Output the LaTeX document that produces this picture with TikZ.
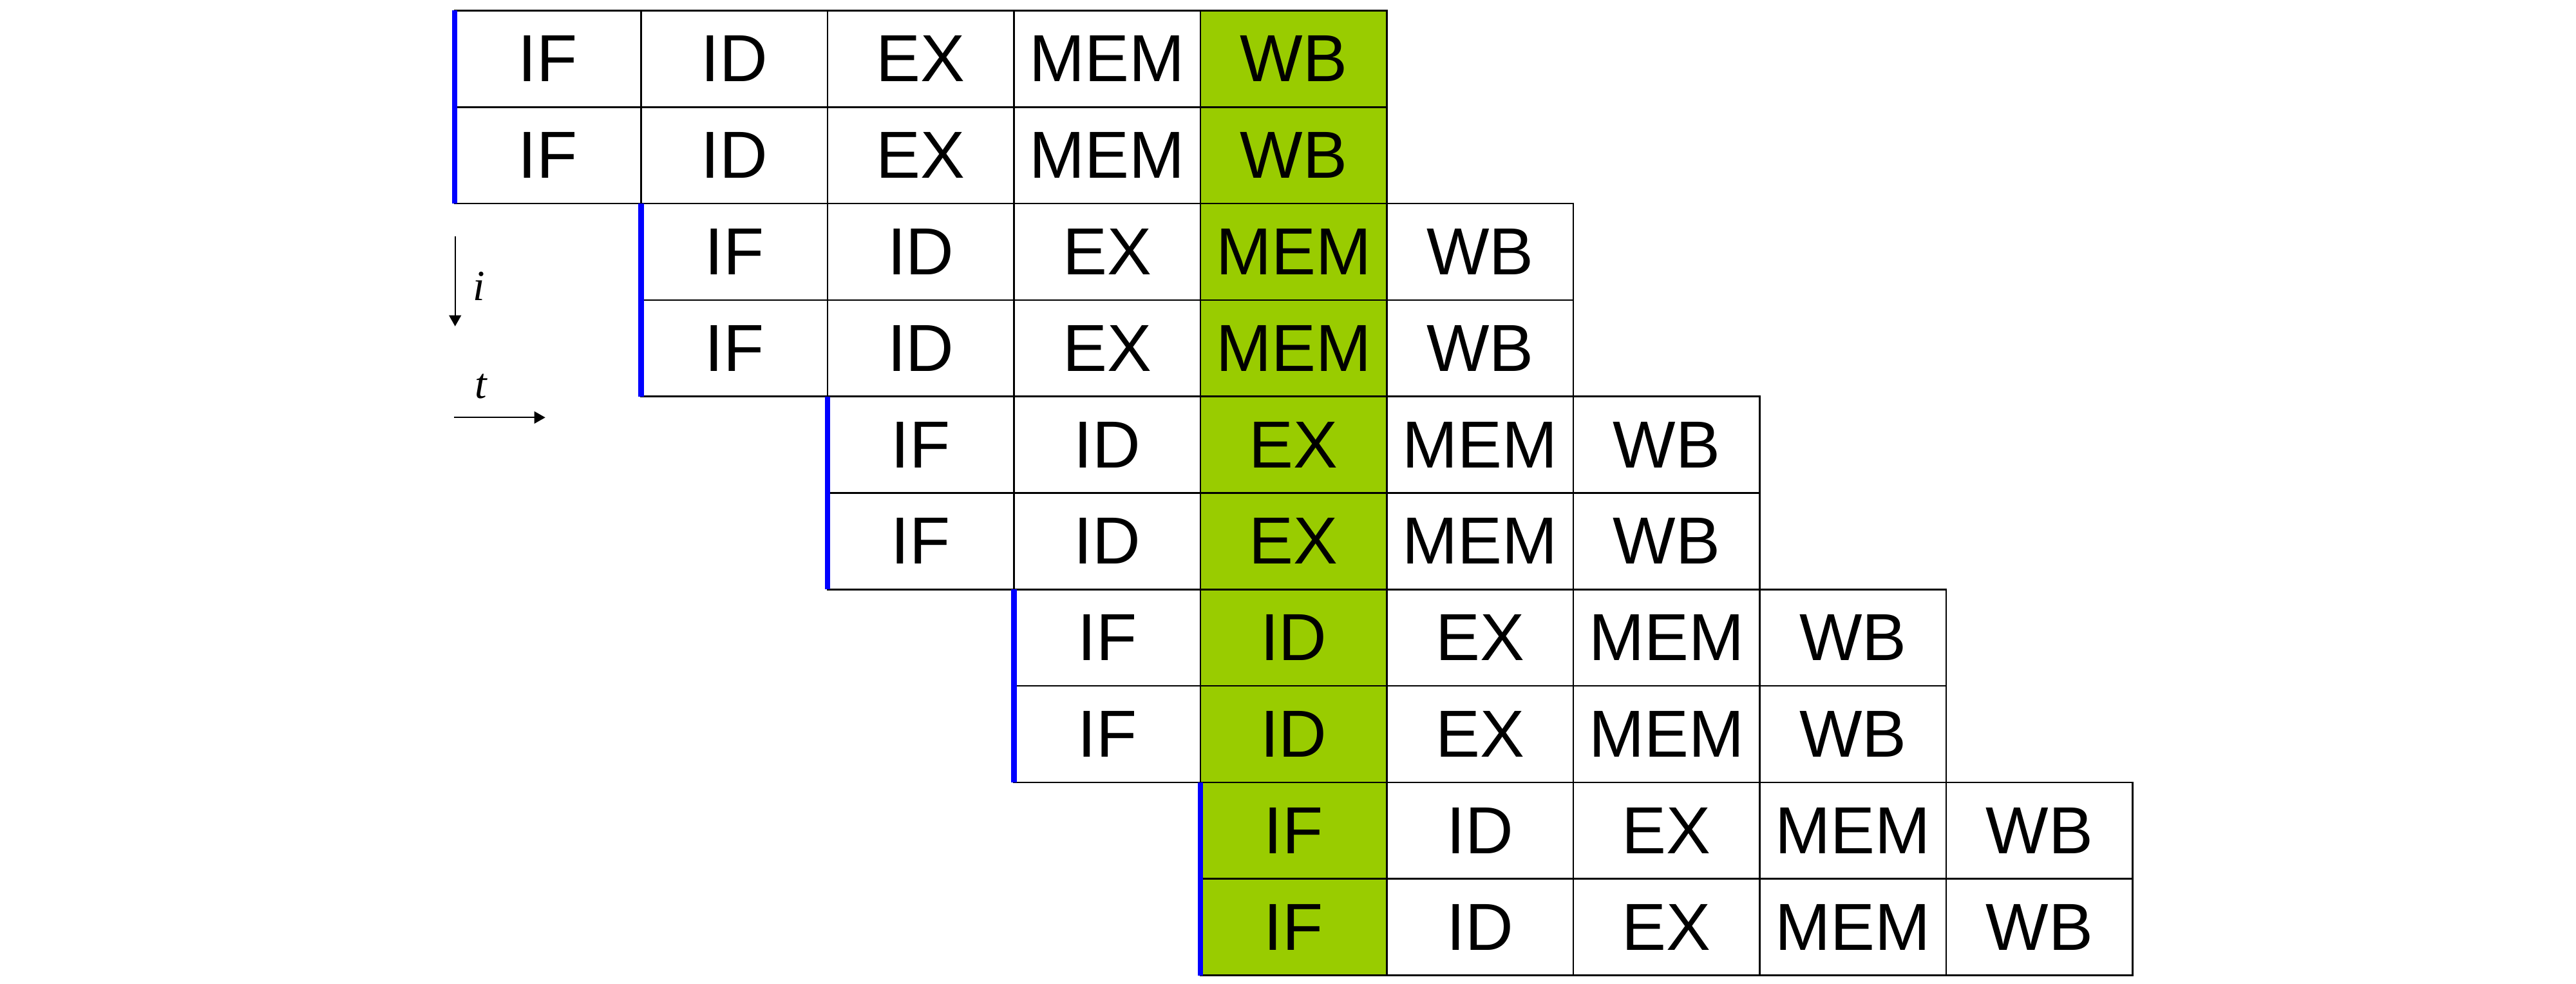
\documentclass[tikz,border=0pt]{standalone}
\usepackage{fontspec}
\setmainfont{Liberation Sans}
\newfontfamily\serifit{Liberation Serif}
\usetikzlibrary{arrows.meta}
\definecolor{stagegreen}{RGB}{153,204,0}
\definecolor{pureblue}{RGB}{0,0,255}
\tikzset{
  cell/.style={draw=black, line width=0.75pt, minimum width=2.895cm, minimum height=1.498cm,
    inner sep=0pt, outer sep=0pt, anchor=center, font=\fontsize{29.4}{30}\selectfont},
  hot/.style={fill=stagegreen},
  bluebar/.style={draw=pureblue, line width=2.3pt},
  axis/.style={draw=black, line width=0.6pt, -{Triangle[length=1.7mm,width=1.87mm]}},
  axislabel/.style={font=\fontsize{19}{20}\selectfont\serifit\itshape, inner sep=0pt}
}
\begin{document}
\begin{tikzpicture}
\useasboundingbox (0,0) rectangle (40,-15.28);
\foreach \r in {0,...,9}{
  \pgfmathtruncatemacro{\sh}{int(\r/2)}
  \foreach \s/\lab in {0/IF,1/ID,2/EX,3/MEM,4/WB}{
    \pgfmathtruncatemacro{\col}{\sh+\s}
    \ifnum\col=4
      \node[cell,hot] (c\r-\s) at ({7.06+(\col+0.5)*2.895},{-(0.165+(\r+0.5)*1.498)}) {\lab};
    \else
      \node[cell] (c\r-\s) at ({7.06+(\col+0.5)*2.895},{-(0.165+(\r+0.5)*1.498)}) {\lab};
    \fi
  }
}
\foreach \a/\b in {0/1,2/3,4/5,6/7,8/9}{
  \draw[bluebar] (c\a-0.north west) -- (c\b-0.south west);
}
% axes
\coordinate (itop) at (7.067,-3.667);
\coordinate (ibot) at (7.067,-5.067);
\coordinate (tleft) at (7.05,-6.483);
\coordinate (tright) at (8.467,-6.483);
\draw[axis] (itop) -- (ibot);
\draw[axis] (tleft) -- (tright);
\node[axislabel] (ilab) at (7.435,-4.44) {i};
\node[axislabel] (tlab) at (7.47,-6.00) {t};
\end{tikzpicture}
\end{document}
